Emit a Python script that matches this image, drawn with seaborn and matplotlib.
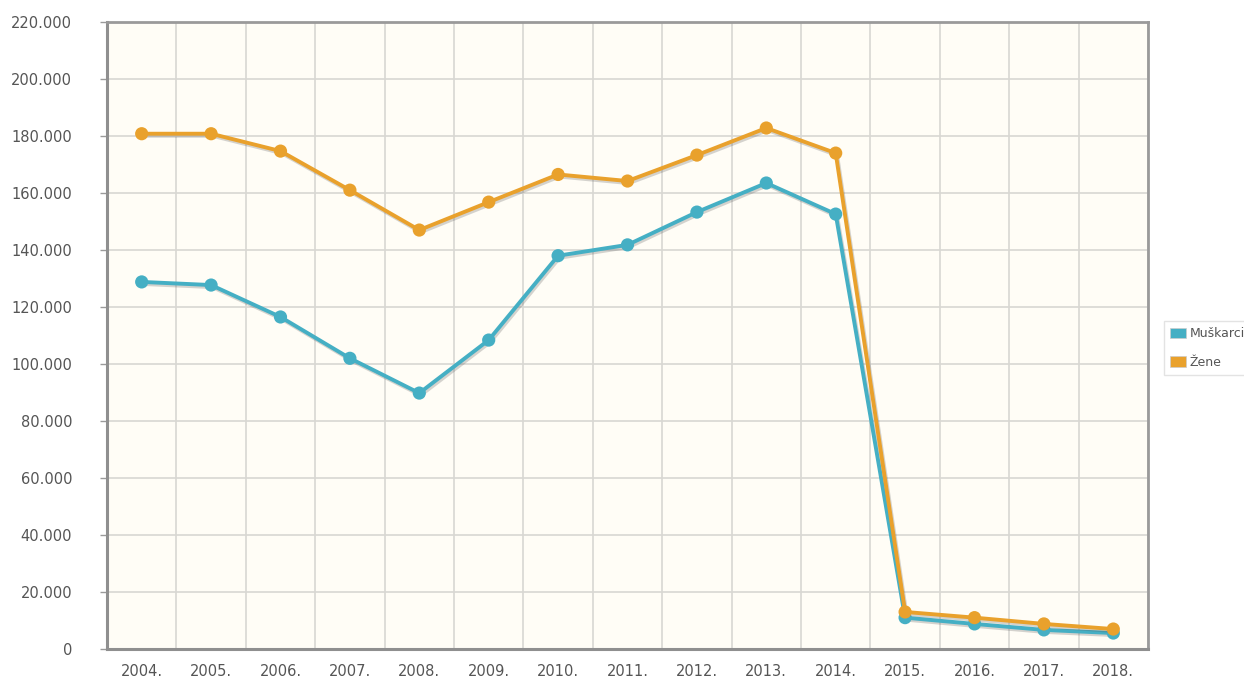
import matplotlib
matplotlib.use("Agg")
import matplotlib.pyplot as plt
import matplotlib.patheffects as pe
from matplotlib.ticker import FuncFormatter, FixedLocator
from matplotlib.patches import Patch
import seaborn as sns
import pandas as pd

years = ["2004.", "2005.", "2006.", "2007.", "2008.", "2009.", "2010.", "2011.",
         "2012.", "2013.", "2014.", "2015.", "2016.", "2017.", "2018."]
muskarci = [128800, 127700, 116500, 102000, 89800, 108400, 138000, 141800,
            153300, 163500, 152600, 11000, 8800, 6700, 5600]
zene = [180800, 180800, 174700, 161000, 147000, 156800, 166500, 164200,
        173300, 182800, 174000, 13000, 11000, 8800, 7000]
series_names = ["Muškarci", "Žene"]
colors = {"Muškarci": "#45AFC4", "Žene": "#E9A12C"}

df = pd.DataFrame({
    "year": years * 2,
    "idx": list(range(len(years))) * 2,
    "value": muskarci + zene,
    "series": [series_names[0]] * len(years) + [series_names[1]] * len(years),
})

sns.set_theme(style="white")
plt.rcParams['font.family'] = ['DejaVu Sans']

fig = plt.figure(figsize=(12.44, 6.8), dpi=100)
ax = fig.add_axes([107/1244, 1 - 649/680, (1148 - 107)/1244, (649 - 22)/680])
ax.set_facecolor("#FFFDF6")

sns.lineplot(data=df, x="idx", y="value", hue="series", palette=colors,
             marker="o", markersize=9.5, markeredgewidth=0, linewidth=2.8,
             sort=False, ax=ax, legend=False, zorder=5)
for ln in ax.get_lines():
    ln.set_path_effects([pe.SimpleLineShadow(offset=(1, -1.5), alpha=0.25, shadow_color="#555555"),
                         pe.Normal()])

ax.set_xlim(-0.5, len(years) - 0.5)
ax.set_ylim(0, 220000)
ax.yaxis.set_major_locator(FixedLocator(list(range(0, 220001, 20000))))
ax.yaxis.set_major_formatter(FuncFormatter(lambda v, p: f"{int(v):,}".replace(",", ".")))
ax.set_xticks(range(len(years)))
ax.set_xticklabels(years)
ax.set_xticks([i + 0.5 for i in range(-1, len(years))], minor=True)

ax.grid(False)
ax.yaxis.grid(True, color="#D8D7D2", linewidth=1.2)
ax.xaxis.grid(True, which="minor", color="#D8D7D2", linewidth=1.2)
ax.set_axisbelow(True)

ax.tick_params(axis="x", which="major", length=0, pad=11, labelsize=10.5, labelcolor="#555555")
ax.tick_params(axis="x", which="minor", length=5, width=1, color="#9a9a9a", direction="out")
ax.tick_params(axis="y", length=5, width=1, color="#9a9a9a", direction="out",
               pad=20, labelsize=10.5, labelcolor="#555555", left=True)
ax.set_xlabel("")
ax.set_ylabel("")

for side in ["left", "bottom"]:
    ax.spines[side].set_color("#8f8f8f")
    ax.spines[side].set_linewidth(2.2)
for side in ["top", "right"]:
    ax.spines[side].set_color("#9a9a9a")
    ax.spines[side].set_linewidth(2.0)

handles = [Patch(facecolor=colors[n], edgecolor="#cccccc", linewidth=0.5) for n in series_names]
leg = fig.legend(handles, series_names, loc="upper left",
                 bbox_to_anchor=(1164/1244, 1 - 321/680), frameon=True,
                 fontsize=9, handletextpad=0.25, borderpad=0.5, labelspacing=1.25,
                 handlelength=1.28, handleheight=0.96, borderaxespad=0, fancybox=False)
leg.get_frame().set_edgecolor("#dddddd")
leg.get_frame().set_linewidth(1)
for t in leg.get_texts():
    t.set_color("#555555")

fig.savefig("out.png", dpi=100, facecolor="white")
